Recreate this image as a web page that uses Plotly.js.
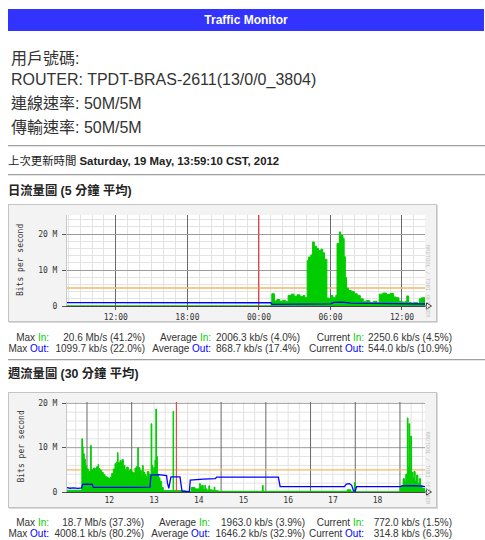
<!DOCTYPE html>
<html><head><meta charset="utf-8">
<script src="https://cdn.plot.ly/plotly-3.0.1.min.js"></script>
<style>
body{margin:0;background:#fff;width:485px;height:540px;overflow:hidden;position:relative;font-family:"Liberation Sans",Arial,"Noto Sans CJK TC",sans-serif;color:#222}
.a{position:absolute;white-space:nowrap}
.hr{position:absolute;left:8px;width:477px;height:0;border-top:1px solid #a0a0a0;border-bottom:1px solid #e4e4e4}
.box{position:absolute;left:8px;width:427px;border:1px solid #c4c4c4;background:#f3f3f3;box-shadow:1px 1px 0 #dadada}
.big{font-size:16px;line-height:18px;left:11px;color:#333}
.sec{font-size:12.3px;line-height:14px;font-weight:bold;left:8px;font-family:"Liberation Sans","Noto Sans CJK TC",sans-serif}
.st{font-size:10px;line-height:12px;color:#333}
</style></head>
<body>
<div class="a" style="left:8px;top:9px;width:476px;height:22px;background:#3333ff;color:#fff;font-weight:bold;font-size:12px;line-height:22px;text-align:center">Traffic Monitor</div>
<div class="a big" style="top:50px">用戶號碼:</div>
<div class="a big" style="top:71px">ROUTER: TPDT-BRAS-2611(13/0/0_3804)</div>
<div class="a big" style="top:95px">連線速率: 50M/5M</div>
<div class="a big" style="top:119px">傳輸速率: 50M/5M</div>
<div class="hr" style="top:145px"></div>
<div class="a" style="left:8px;top:154px;font-size:11.4px;line-height:14px">上次更新時間 <b>Saturday, 19 May, 13:59:10 CST, 2012</b></div>
<div class="hr" style="top:174px"></div>
<div class="a sec" style="top:184px">日流量圖 (5 分鐘 平均)</div>
<div class="box" style="top:204px;height:116px"><div id="day"></div></div>
<div class="hr" style="top:359px"></div>
<div class="a sec" style="top:367px">週流量圖 (30 分鐘 平均)</div>
<div class="box" style="top:392px;height:114px"><div id="week"></div></div>
<div id="stats"></div>
<script>
// ---------- data (Mb/s) ----------
// Daily graph: x = hours relative to 19 May 00:00
const dayRange = [-16.1, 13.93];
const dayTickVals = [-12, -6, 0, 6, 12];
const dayTickText = ['12:00', '18:00', '00:00', '06:00', '12:00'];
const dayIn = [[-16.2,0.05],[0,0.05],[1.0,0.3],[1.08,3.4],[1.3,1.4],[1.5,1.8],[1.75,1.3],[2.0,1.6],[2.25,1.2],[2.45,2.9],[2.7,3.3],[2.95,2.7],[3.2,3.1],[3.45,2.6],[3.7,2.9],[3.85,2.3],[4.05,12.6],[4.15,13.6],[4.35,14.2],[4.5,17.8],[4.65,16.6],[4.85,16.0],[5.0,15.4],[5.2,15.8],[5.35,14.8],[5.5,13.0],[5.7,2.2],[5.9,2.0],[6.05,2.9],[6.2,2.3],[6.45,3.0],[6.55,17.4],[6.75,20.6],[6.85,19.6],[7.05,18.8],[7.15,13.7],[7.25,8.0],[7.35,5.0],[7.5,4.3],[7.75,4.0],[8.0,3.4],[8.25,2.9],[8.5,2.0],[8.75,1.2],[9.0,1.5],[9.3,1.0],[9.6,1.3],[9.9,0.9],[10.1,3.3],[10.4,3.6],[10.7,3.2],[11.0,3.5],[11.3,2.5],[11.5,2.3],[11.75,1.3],[12.0,1.1],[12.3,1.3],[12.4,2.8],[12.55,1.0],[12.8,0.8],[13.0,1.0],[13.3,0.6],[13.45,2.0],[13.65,2.3],[13.93,2.3]];
const dayOut = [[-16.2,0.95],[0,0.95],[1.0,0.9],[1.1,0.45],[2.0,0.5],[3.0,0.45],[4.0,0.5],[5.0,0.55],[6.0,0.6],[6.3,1.0],[7.0,1.1],[7.7,0.8],[8.5,0.75],[9.5,0.7],[10.5,0.75],[11.5,0.7],[12.2,0.45],[13.0,0.45],[13.6,0.55],[13.93,0.55]];
const dayMidnight = 0;
const dayYMax = 25.3;

// Weekly graph: x = days relative to 12 May 00:00
const weekRange = [-0.447, 7.56];
const weekTickVals = [0.5, 1.5, 2.5, 3.5, 4.5, 5.5, 6.5];
const weekTickText = ['12', '13', '14', '15', '16', '17', '18'];
const weekIn = [[-0.45,0.4],[-0.125,0.5],[-0.115,12.0],[-0.1,10.2],[-0.085,8.6],[-0.06,7.4],[-0.035,6.0],[-0.007,5.2],[0.03,4.6],[0.075,4.4],[0.082,10.5],[0.095,5.0],[0.142,5.4],[0.179,5.2],[0.216,5.7],[0.25,6.2],[0.26,5.3],[0.29,4.9],[0.328,4.4],[0.365,3.9],[0.403,3.5],[0.44,3.3],[0.477,3.0],[0.515,3.3],[0.552,4.2],[0.589,5.2],[0.626,6.4],[0.664,6.8],[0.684,8.9],[0.695,6.6],[0.738,7.1],[0.76,6.7],[0.783,7.3],[0.813,6.0],[0.85,5.0],[0.887,5.6],[0.925,4.8],[0.962,5.1],[1.0,4.5],[1.037,4.3],[1.074,5.4],[1.111,5.8],[1.136,10.0],[1.148,5.5],[1.186,4.8],[1.223,3.8],[1.245,6.0],[1.257,4.5],[1.29,4.0],[1.32,3.5],[1.35,4.6],[1.387,4.0],[1.424,3.5],[1.434,15.4],[1.45,6.0],[1.475,4.5],[1.495,5.5],[1.52,7.2],[1.54,18.7],[1.555,8.0],[1.575,4.0],[1.6,3.2],[1.633,2.4],[1.67,1.0],[1.708,0.3],[1.915,0.3],[1.925,18.2],[1.937,0.3],[2.2,0.1],[2.33,1.0],[2.415,0.7],[2.52,1.9],[2.535,1.2],[2.565,1.5],[2.6,0.6],[2.635,1.5],[2.65,0.7],[2.68,0.4],[2.725,1.4],[2.74,0.5],[2.79,0.4],[2.845,1.1],[2.86,0.4],[2.88,0.3],[2.94,0.15],[3.925,1.5],[3.94,0.15],[5.82,0.5],[5.9,0.1],[5.98,2.1],[5.995,0.1],[6.02,0.05],[7.0,1.0],[7.04,1.5],[7.07,3.0],[7.1,2.4],[7.13,4.0],[7.165,16.7],[7.18,5.5],[7.2,15.4],[7.22,5.0],[7.24,12.6],[7.26,4.5],[7.28,3.2],[7.31,4.6],[7.34,2.5],[7.37,3.8],[7.4,2.0],[7.43,3.0],[7.46,1.5],[7.49,0.9],[7.52,0.8],[7.57,0.8]];
const weekOut = [[-0.45,1.0],[-0.38,0.85],[-0.3,0.95],[-0.2,0.8],[-0.12,0.9],[-0.1,1.7],[0.0,1.75],[0.12,1.7],[0.14,1.05],[0.5,1.0],[1.0,1.05],[1.41,1.1],[1.43,3.8],[1.6,3.9],[1.78,3.7],[1.8,2.0],[1.83,0.8],[1.86,2.5],[1.88,3.4],[2.08,3.4],[2.1,2.0],[2.125,0.2],[2.29,0.1],[2.31,2.7],[2.6,2.9],[2.87,3.0],[2.9,3.35],[3.5,3.3],[4.0,3.4],[4.28,3.35],[4.32,1.2],[4.6,1.15],[5.0,1.2],[5.76,1.2],[5.8,1.8],[5.87,1.9],[5.92,1.5],[5.96,0.3],[6.0,0.2],[6.03,1.2],[6.5,1.15],[7.0,1.2],[7.05,1.4],[7.3,1.45],[7.5,1.3],[7.57,1.2]];
const weekStartDay = 2;
const weekYMax = 20.3;

const lineLimit = 5; // 5M line
const yTickVals = [0, 10, 20];
const yTickText = ['0', '10 M', '20 M'];

// stats text
const statLabels = ['Max', 'Average', 'Current'];
const dayStatIn = ['20.6 Mb/s (41.2%)', '2006.3 kb/s (4.0%)', '2250.6 kb/s (4.5%)'];
const dayStatOut = ['1099.7 kb/s (22.0%)', '868.7 kb/s (17.4%)', '544.0 kb/s (10.9%)'];
const weekStatIn = ['18.7 Mb/s (37.3%)', '1963.0 kb/s (3.9%)', '772.0 kb/s (1.5%)'];
const weekStatOut = ['4008.1 kb/s (80.2%)', '1646.2 kb/s (32.9%)', '314.8 kb/s (6.3%)'];

// ---------- styling ----------
const GREEN = '#00cc00', BLUE = '#0000ff', ORANGE = '#f2b866', RED = '#ff4040';
const MAJOR = '#6a6a6a', MAJOR_H = '#9c9c9c', MINOR = '#e3e3e3';
const MONO = 'DejaVu Sans Mono';

function traces(inData, outData, range, marker, ymax) {
  return [
    {x: range, y: [lineLimit, lineLimit], type: 'scatter', mode: 'lines',
     line: {color: ORANGE, width: 1.3}, hoverinfo: 'skip'},
    {x: inData.map(p => p[0]), y: inData.map(p => p[1]), type: 'scatter', mode: 'lines',
     line: {color: GREEN, width: 1, shape: 'hv'}, fill: 'tozeroy', fillcolor: GREEN, hoverinfo: 'skip'},
    {x: [marker, marker], y: [0, ymax], type: 'scatter', mode: 'lines',
     line: {color: RED, width: 1}, hoverinfo: 'skip'},
    {x: outData.map(p => p[0]), y: outData.map(p => p[1]), type: 'scatter', mode: 'lines',
     line: {color: BLUE, width: 1.3}, hoverinfo: 'skip'}
  ];
}

function baseLayout(h, t, ymax) {
  return {
    width: 427, height: h,
    margin: {l: 58, r: 11, t: t, b: 15, pad: 0},
    paper_bgcolor: 'rgba(0,0,0,0)', plot_bgcolor: '#ffffff',
    showlegend: false,
    yaxis: {range: [0, ymax], tickmode: 'array', tickvals: yTickVals, ticktext: yTickText,
      showgrid: true, gridcolor: MAJOR_H, gridwidth: 1,
      minor: {dtick: 2, tick0: 0, showgrid: true, gridcolor: MINOR, gridwidth: 1},
      zeroline: false, showline: true, linecolor: '#c8c8c8', linewidth: 1,
      ticks: 'outside', ticklen: 4, tickcolor: '#555', ticklabelstandoff: 3,
      tickfont: {family: MONO, size: 8, color: '#333'}, fixedrange: true, automargin: false},
    annotations: [
      {xref: 'paper', yref: 'paper', x: -0.148, y: 0.5, text: 'Bits per second', showarrow: false,
       textangle: -90, font: {family: MONO, size: 8, color: '#333'}},
      {xref: 'paper', yref: 'paper', x: 1.021, y: 0.7, text: 'RRDTOOL / TOBI OETIKER', showarrow: false,
       textangle: 90, font: {family: MONO, size: 5.5, color: '#c4c4c4'}}
    ],
    shapes: []
  };
}
const arrowShape = {type: 'path', xref: 'paper', yref: 'paper', path: 'M 1.0,0 L 1.004,0 M 1.004,0.035 L 1.018,0 L 1.004,-0.035 Z',
  line: {color: '#333', width: 1}, fillcolor: 'rgba(0,0,0,0)', layer: 'above'};

// Daily chart
const dl = baseLayout(116, 10, dayYMax);
dl.xaxis = {range: dayRange, tickmode: 'array', tickvals: dayTickVals, ticktext: dayTickText,
  showgrid: true, gridcolor: MAJOR, gridwidth: 1,
  minor: {dtick: 1, tick0: 0, showgrid: true, gridcolor: MINOR, gridwidth: 1},
  zeroline: false, showline: true, linecolor: '#444', linewidth: 1,
  ticks: 'outside', ticklen: 3, tickcolor: '#555',
  tickfont: {family: MONO, size: 8, color: '#333'}, fixedrange: true, automargin: false};
dl.shapes.push(arrowShape);
Plotly.newPlot('day', traces(dayIn, dayOut, dayRange, dayMidnight, dayYMax), dl, {staticPlot: true, displayModeBar: false});

// Weekly chart: grid drawn with shapes (labels sit at noon, major lines at midnight)
const wl = baseLayout(114, 9, weekYMax);
wl.yaxis.showgrid = false;
wl.yaxis.minor = {showgrid: false};
wl.xaxis = {range: weekRange, tickmode: 'array', tickvals: weekTickVals, ticktext: weekTickText,
  showgrid: false, zeroline: false, showline: true, linecolor: '#444', linewidth: 1,
  ticks: '', tickfont: {family: MONO, size: 8, color: '#333'}, fixedrange: true, automargin: false};
const vline = (d, c) => ({type: 'line', xref: 'x', yref: 'paper', x0: d, x1: d, y0: 0, y1: 1, line: {color: c, width: 1}, layer: 'below'});
const hline = (v, c) => ({type: 'line', xref: 'paper', yref: 'y', x0: 0, x1: 1, y0: v, y1: v, line: {color: c, width: 1}, layer: 'below'});
const q0 = Math.ceil(weekRange[0] * 4), q1 = Math.floor(weekRange[1] * 4);
for (let q = q0; q <= q1; q++) if (q % 4 !== 0) wl.shapes.push(vline(q / 4, MINOR));
for (let v = 2; v <= weekYMax; v += 2) if (v % 10 !== 0) wl.shapes.push(hline(v, MINOR));
for (let v = 10; v <= weekYMax; v += 10) wl.shapes.push(hline(v, MAJOR_H));
for (let q = q0; q <= q1; q++) if (q % 4 === 0) wl.shapes.push(vline(q / 4, MAJOR));
wl.shapes.push(arrowShape);
Plotly.newPlot('week', traces(weekIn, weekOut, weekRange, weekStartDay, weekYMax), wl, {staticPlot: true, displayModeBar: false});

// ---------- stats text ----------
const stats = document.getElementById('stats');
function put(html, x, y, align) {
  const el = document.createElement('div');
  el.className = 'a st';
  el.innerHTML = html;
  el.style.top = (y - 6) + 'px';
  if (align === 'right') el.style.right = (485 - x) + 'px'; else el.style.left = x + 'px';
  stats.appendChild(el);
}
function statBlock(inVals, outVals, y1, y2, cols) {
  const rows = [[inVals, '<span style="color:' + GREEN + '">In:</span>', y1],
                [outVals, '<span style="color:' + BLUE + '">Out:</span>', y2]];
  rows.forEach(r => {
    for (let i = 0; i < 3; i++) {
      put(statLabels[i] + ' ' + r[1], cols[i][0], r[2], 'right');
      put(r[0][i], cols[i][1], r[2], 'right');
    }
  });
}
statBlock(dayStatIn, dayStatOut, 338, 349, [[49, 145], [211, 300], [364, 452]]);
statBlock(weekStatIn, weekStatOut, 523, 534, [[49, 144], [210, 305], [364, 452]]);
</script>
</body></html>
